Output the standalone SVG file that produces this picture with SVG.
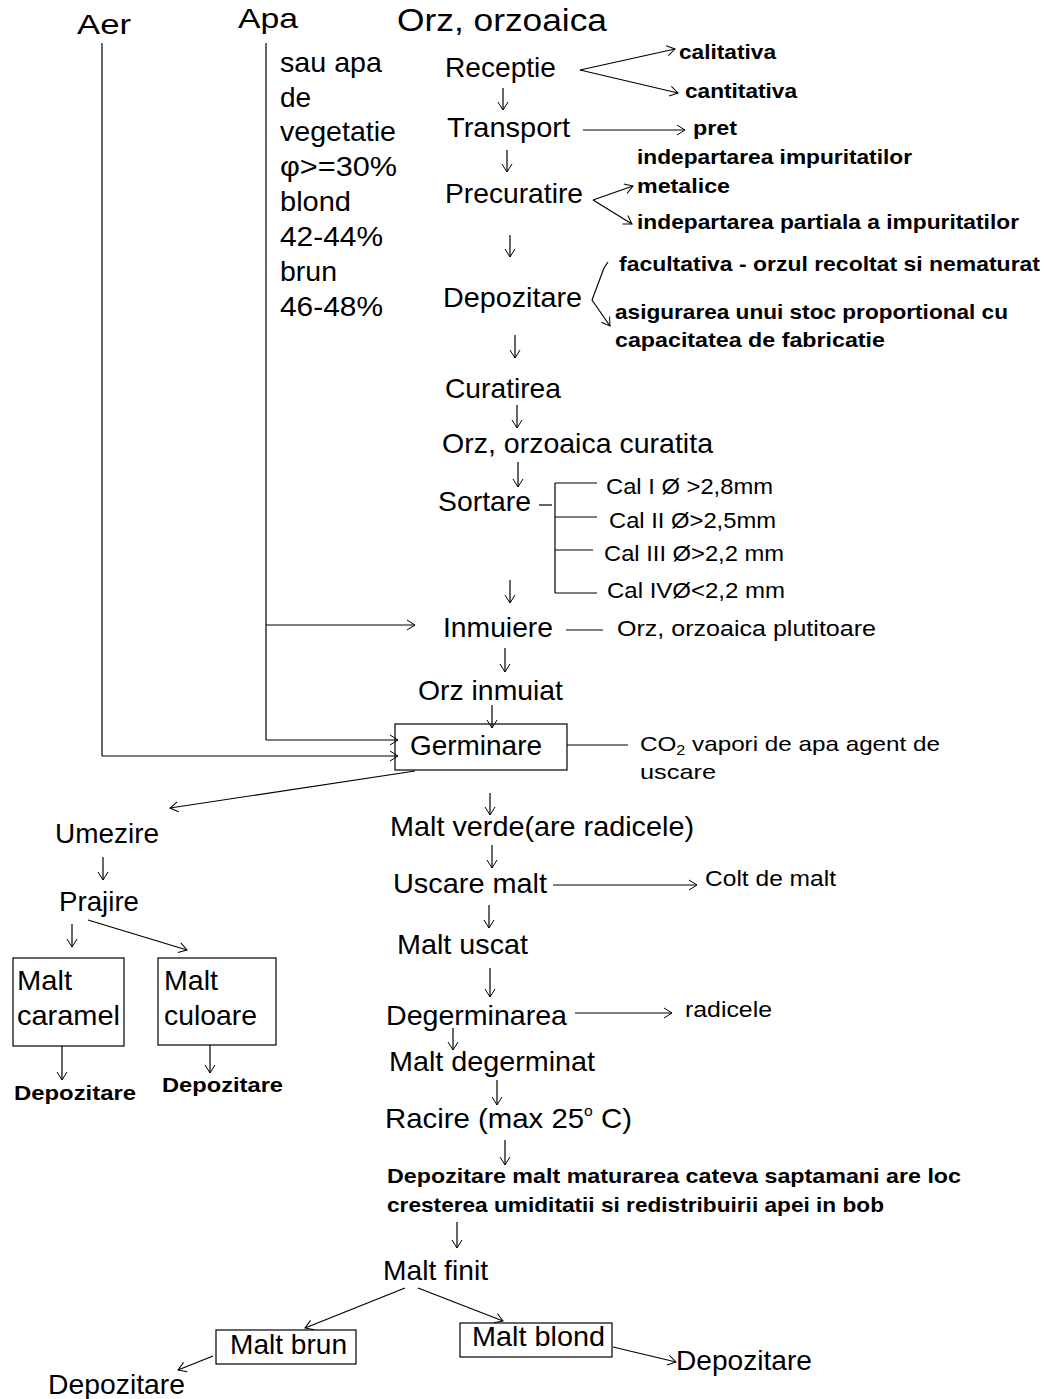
<svg xmlns="http://www.w3.org/2000/svg" width="1044" height="1399" viewBox="0 0 1044 1399">
<defs>
<marker id="ah" markerUnits="userSpaceOnUse" markerWidth="12" markerHeight="12" refX="9" refY="5" orient="auto" overflow="visible">
<path d="M1,0 L9,5 L1,10" fill="none" stroke="#000" stroke-width="1"/>
</marker>
</defs>
<style>
text{font-family:"Liberation Sans",Arial,sans-serif;fill:#000}
.L{font-size:28px}
.T{font-size:31px}
.S{font-size:21px;font-weight:bold}
.c line{stroke:#000;stroke-width:1.2;fill:none}
.a{marker-end:url(#ah)}
.box{fill:none;stroke:#000;stroke-width:1.2}
</style>
<rect width="1044" height="1399" fill="#fff"/>

<g id="connectors" class="c">
<line x1="102" y1="43" x2="102" y2="756"/>
<line class="a" x1="102" y1="756" x2="398" y2="756"/>
<line x1="266" y1="43" x2="266" y2="740"/>
<line class="a" x1="266" y1="625" x2="415" y2="625"/>
<line class="a" x1="266" y1="740" x2="398" y2="740"/>
<line class="a" x1="580" y1="70" x2="675" y2="49"/>
<line class="a" x1="580" y1="70" x2="678" y2="93"/>
<line class="a" x1="503" y1="88" x2="503" y2="110"/>
<line class="a" x1="583" y1="130" x2="685" y2="130"/>
<line class="a" x1="507" y1="150" x2="507" y2="172"/>
<line class="a" x1="593" y1="200" x2="633" y2="186"/>
<line class="a" x1="593" y1="200" x2="632" y2="224"/>
<line class="a" x1="510" y1="235" x2="510" y2="257"/>
<line x1="604" y1="268" x2="592" y2="300"/>
<line class="a" x1="592" y1="300" x2="610" y2="326"/>
<line x1="604" y1="268" x2="608" y2="262"/>
<line class="a" x1="515" y1="335" x2="515" y2="358"/>
<line class="a" x1="517" y1="405" x2="517" y2="428"/>
<line class="a" x1="518" y1="462" x2="518" y2="487"/>
<line x1="539" y1="505" x2="552" y2="505"/>
<line x1="555" y1="483" x2="555" y2="593"/>
<line x1="555" y1="483" x2="597" y2="483"/>
<line x1="555" y1="517" x2="597" y2="517"/>
<line x1="555" y1="550" x2="593" y2="550"/>
<line x1="555" y1="593" x2="597" y2="593"/>
<line class="a" x1="510" y1="580" x2="510" y2="603"/>
<line x1="566" y1="630" x2="603" y2="630"/>
<line class="a" x1="505" y1="648" x2="505" y2="672"/>
<line class="a" x1="492" y1="705" x2="492" y2="728"/>
<line x1="567" y1="745" x2="628" y2="745"/>
<line class="a" x1="415" y1="771" x2="170" y2="808"/>
<line class="a" x1="103" y1="857" x2="103" y2="880"/>
<line class="a" x1="72" y1="924" x2="72" y2="947"/>
<line class="a" x1="88" y1="920" x2="187" y2="950"/>
<line class="a" x1="62" y1="1046" x2="62" y2="1080"/>
<line class="a" x1="210" y1="1045" x2="210" y2="1073"/>
<line class="a" x1="490" y1="793" x2="490" y2="815"/>
<line class="a" x1="492" y1="845" x2="492" y2="868"/>
<line class="a" x1="553" y1="885" x2="697" y2="885"/>
<line class="a" x1="489" y1="905" x2="489" y2="928"/>
<line class="a" x1="490" y1="968" x2="490" y2="997"/>
<line class="a" x1="575" y1="1013" x2="672" y2="1013"/>
<line class="a" x1="453" y1="1028" x2="453" y2="1050"/>
<line class="a" x1="497" y1="1080" x2="497" y2="1105"/>
<line class="a" x1="505" y1="1140" x2="505" y2="1165"/>
<line class="a" x1="457" y1="1222" x2="457" y2="1248"/>
<line class="a" x1="405" y1="1288" x2="305" y2="1328"/>
<line class="a" x1="418" y1="1288" x2="503" y2="1321"/>
<line class="a" x1="613" y1="1347" x2="676" y2="1362"/>
<line class="a" x1="213" y1="1356" x2="178" y2="1370"/>
</g>

<g id="aer"><text class="L" x="77" y="34" textLength="54" lengthAdjust="spacingAndGlyphs">Aer</text></g>
<g id="apa"><text class="L" x="238" y="28" textLength="60" lengthAdjust="spacingAndGlyphs">Apa</text></g>
<g id="apa-note">
<text class="L" x="280" y="72" textLength="102" lengthAdjust="spacingAndGlyphs">sau apa</text>
<text class="L" x="280" y="107">de</text>
<text class="L" x="280" y="141" textLength="116" lengthAdjust="spacingAndGlyphs">vegetatie</text>
<text class="L" x="280" y="176" textLength="117" lengthAdjust="spacingAndGlyphs">φ&gt;=30%</text>
<text class="L" x="280" y="211" textLength="71" lengthAdjust="spacingAndGlyphs">blond</text>
<text class="L" x="280" y="246" textLength="103" lengthAdjust="spacingAndGlyphs">42-44%</text>
<text class="L" x="280" y="281" textLength="57" lengthAdjust="spacingAndGlyphs">brun</text>
<text class="L" x="280" y="316" textLength="103" lengthAdjust="spacingAndGlyphs">46-48%</text>
</g>
<g id="orz"><text class="T" x="397" y="31" textLength="210" lengthAdjust="spacingAndGlyphs">Orz, orzoaica</text></g>
<g id="receptie"><text class="L" x="445" y="77" textLength="111" lengthAdjust="spacingAndGlyphs">Receptie</text></g>
<g id="calitativa"><text class="S" x="679" y="59" textLength="97" lengthAdjust="spacingAndGlyphs">calitativa</text></g>
<g id="cantitativa"><text class="S" x="685" y="98" textLength="112" lengthAdjust="spacingAndGlyphs">cantitativa</text></g>
<g id="transport"><text class="L" x="447" y="137" textLength="123" lengthAdjust="spacingAndGlyphs">Transport</text></g>
<g id="pret"><text class="S" x="693" y="135" textLength="44" lengthAdjust="spacingAndGlyphs">pret</text></g>
<g id="precuratire"><text class="L" x="445" y="203" textLength="138" lengthAdjust="spacingAndGlyphs">Precuratire</text></g>
<g id="impuritati">
<text class="S" x="637" y="164" textLength="275" lengthAdjust="spacingAndGlyphs">indepartarea impuritatilor</text>
<text class="S" x="637" y="193" textLength="93" lengthAdjust="spacingAndGlyphs">metalice</text>
</g>
<g id="partiala"><text class="S" x="637" y="229" textLength="382" lengthAdjust="spacingAndGlyphs">indepartarea partiala a impuritatilor</text></g>
<g id="depozitare1"><text class="L" x="443" y="307" textLength="139" lengthAdjust="spacingAndGlyphs">Depozitare</text></g>
<g id="facultativa"><text class="S" x="619" y="271" textLength="421" lengthAdjust="spacingAndGlyphs">facultativa - orzul recoltat si nematurat</text></g>
<g id="stoc">
<text class="S" x="615" y="319" textLength="393" lengthAdjust="spacingAndGlyphs">asigurarea unui stoc proportional cu</text>
<text class="S" x="615" y="347" textLength="270" lengthAdjust="spacingAndGlyphs">capacitatea de fabricatie</text>
</g>
<g id="curatirea"><text class="L" x="445" y="398" textLength="116" lengthAdjust="spacingAndGlyphs">Curatirea</text></g>
<g id="orz-curatita"><text class="L" x="442" y="453" textLength="271" lengthAdjust="spacingAndGlyphs">Orz, orzoaica curatita</text></g>
<g id="sortare"><text class="L" x="438" y="511" textLength="93" lengthAdjust="spacingAndGlyphs">Sortare</text></g>
<g id="cal1"><text x="606" y="494" textLength="167" lengthAdjust="spacingAndGlyphs" style="font-size:22px">Cal I Ø &gt;2,8mm</text></g>
<g id="cal2"><text x="609" y="528" textLength="167" lengthAdjust="spacingAndGlyphs" style="font-size:22px">Cal II Ø&gt;2,5mm</text></g>
<g id="cal3"><text x="604" y="561" textLength="180" lengthAdjust="spacingAndGlyphs" style="font-size:22px">Cal III Ø&gt;2,2 mm</text></g>
<g id="cal4"><text x="607" y="598" textLength="178" lengthAdjust="spacingAndGlyphs" style="font-size:22px">Cal IVØ&lt;2,2 mm</text></g>
<g id="inmuiere"><text class="L" x="443" y="637" textLength="110" lengthAdjust="spacingAndGlyphs">Inmuiere</text></g>
<g id="plutitoare"><text x="617" y="636" textLength="259" lengthAdjust="spacingAndGlyphs" style="font-size:22px">Orz, orzoaica plutitoare</text></g>
<g id="orz-inmuiat"><text class="L" x="418" y="700" textLength="145" lengthAdjust="spacingAndGlyphs">Orz inmuiat</text></g>
<g id="germinare">
<rect class="box" x="395" y="724" width="172" height="46"/>
<text class="L" x="410" y="755" textLength="132" lengthAdjust="spacingAndGlyphs">Germinare</text>
</g>
<g id="co2">
<text x="640" y="751" style="font-size:21px" textLength="300" lengthAdjust="spacingAndGlyphs">CO<tspan dy="4" style="font-size:14px">2</tspan><tspan dy="-4"> vapori de apa agent de</tspan></text>
<text x="640" y="779" style="font-size:21px" textLength="76" lengthAdjust="spacingAndGlyphs">uscare</text>
</g>
<g id="umezire"><text class="L" x="55" y="843" textLength="104" lengthAdjust="spacingAndGlyphs">Umezire</text></g>
<g id="prajire"><text class="L" x="59" y="911" textLength="80" lengthAdjust="spacingAndGlyphs">Prajire</text></g>
<g id="malt-caramel">
<rect class="box" x="13" y="958" width="111" height="88"/>
<text class="L" x="17" y="990" textLength="55" lengthAdjust="spacingAndGlyphs">Malt</text>
<text class="L" x="17" y="1025" textLength="103" lengthAdjust="spacingAndGlyphs">caramel</text>
</g>
<g id="malt-culoare">
<rect class="box" x="158" y="958" width="118" height="87"/>
<text class="L" x="164" y="990" textLength="54" lengthAdjust="spacingAndGlyphs">Malt</text>
<text class="L" x="164" y="1025" textLength="93" lengthAdjust="spacingAndGlyphs">culoare</text>
</g>
<g id="depozitare-caramel"><text class="S" x="14" y="1100" textLength="122" lengthAdjust="spacingAndGlyphs">Depozitare</text></g>
<g id="depozitare-culoare"><text class="S" x="162" y="1092" textLength="121" lengthAdjust="spacingAndGlyphs">Depozitare</text></g>
<g id="malt-verde"><text class="L" x="390" y="836" textLength="304" lengthAdjust="spacingAndGlyphs">Malt verde(are radicele)</text></g>
<g id="uscare-malt"><text class="L" x="393" y="893" textLength="154" lengthAdjust="spacingAndGlyphs">Uscare malt</text></g>
<g id="colt"><text x="705" y="886" textLength="131" lengthAdjust="spacingAndGlyphs" style="font-size:22px">Colt de malt</text></g>
<g id="malt-uscat"><text class="L" x="397" y="954" textLength="131" lengthAdjust="spacingAndGlyphs">Malt uscat</text></g>
<g id="degerminarea"><text class="L" x="386" y="1025" textLength="181" lengthAdjust="spacingAndGlyphs">Degerminarea</text></g>
<g id="radicele"><text x="685" y="1017" textLength="87" lengthAdjust="spacingAndGlyphs" style="font-size:22px">radicele</text></g>
<g id="malt-degerminat"><text class="L" x="389" y="1071" textLength="206" lengthAdjust="spacingAndGlyphs">Malt degerminat</text></g>
<g id="racire"><text class="L" x="385" y="1128" textLength="247" lengthAdjust="spacingAndGlyphs">Racire (max 25<tspan dy="-12" style="font-size:15px">o</tspan><tspan dy="12">  C)</tspan></text></g>
<g id="depozitare-malt">
<text class="S" x="387" y="1183" textLength="574" lengthAdjust="spacingAndGlyphs">Depozitare malt maturarea cateva saptamani are loc</text>
<text class="S" x="387" y="1212" textLength="497" lengthAdjust="spacingAndGlyphs">cresterea umiditatii si redistribuirii apei in bob</text>
</g>
<g id="malt-finit"><text class="L" x="383" y="1280" textLength="105" lengthAdjust="spacingAndGlyphs">Malt finit</text></g>
<g id="malt-brun">
<rect class="box" x="216" y="1330" width="140" height="34"/>
<text class="L" x="230" y="1354" textLength="117" lengthAdjust="spacingAndGlyphs">Malt brun</text>
</g>
<g id="malt-blond">
<rect class="box" x="460" y="1323" width="152" height="34"/>
<text class="L" x="472" y="1346" textLength="133" lengthAdjust="spacingAndGlyphs">Malt blond</text>
</g>
<g id="depozitare-blond"><text class="L" x="676" y="1370" textLength="136" lengthAdjust="spacingAndGlyphs">Depozitare</text></g>
<g id="depozitare-brun"><text class="L" x="48" y="1394" textLength="137" lengthAdjust="spacingAndGlyphs">Depozitare</text></g>
</svg>
